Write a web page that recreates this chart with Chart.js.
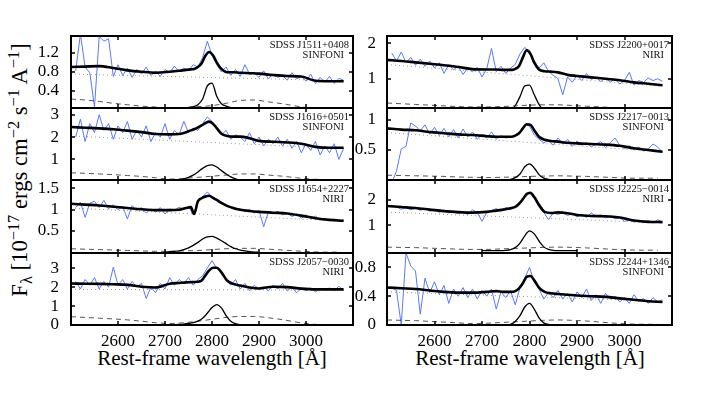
<!DOCTYPE html>
<html>
<head>
<meta charset="utf-8">
<script src="https://cdn.jsdelivr.net/npm/chart.js@4.4.1/dist/chart.umd.min.js"></script>
<style>
  body { margin: 0; background: #fff; width: 707px; height: 394px; overflow: hidden; position: relative; font-family: 'Liberation Serif', 'Times New Roman', serif; }
  canvas { position: absolute; }
  .tag { position: absolute; font-size: 10.5px; line-height: 10px; text-align: right; color: #111; white-space: nowrap; }
  .tag span { display: block; padding-right: 5px; }
  .xt { position: absolute; top: 348px; font-size: 21px; line-height: 21px; white-space: nowrap; transform: translateX(-50%); }
  #ytitle { position: absolute; left: 21px; top: 170px; font-size: 22.7px; line-height: 22px; white-space: nowrap; transform: translate(-50%, -50%) rotate(-90deg); }
  .sp { font-size: 0.72em; position: relative; top: -0.5em; }
  .sb { font-size: 0.72em; position: relative; top: 0.3em; }
</style>
</head>
<body>

<div id="ytitle">F<span class="sb">λ</span> [10<span class="sp">−17</span> ergs cm<span class="sp">−2</span> s<span class="sp">−1</span> A<span class="sp">−1</span>]</div>
<div class="xt" style="left:212px">Rest-frame wavelength [Å]</div>
<div class="xt" style="left:530px">Rest-frame wavelength [Å]</div>

<script>
// wavelength grids (Angstrom)
const wave = [2510,2520,2530,2540,2550,2560,2570,2580,2590,2600,
  2610,2620,2630,2640,2650,2660,2670,2680,2690,2700,
  2710,2720,2730,2740,2750,2760,2770,2780,2790,2800,
  2810,2820,2830,2840,2850,2860,2870,2880,2890,2900,
  2910,2920,2930,2940,2950,2960,2970,2980,2990,3000,
  3010,3020,3030,3040,3050,3060,3070,3080];
const fitWave = [2500,2530,2560,2590,2620,2650,2680,2710,2730,2745,2755,2762,2770,2778,2786,
  2794,2802,2810,2820,2832,2845,2860,2880,2900,2930,2960,2990,3020,3050,3080];
const lineWave = [2700,2710,2720,2730,2740,2750,2760,2770,2780,2790,2800,
  2810,2820,2830,2840,2850,2860,2870,2880,2890,2900];
const feWave = [2500,2530,2560,2590,2620,2650,2680,2710,2740,2770,
  2800,2830,2860,2890,2920,2950,2980,3010,3040,3070];
const contWave = [2500, 3080];
const xTicks = [2600, 2700, 2800, 2900, 3000];

// SDSS J1511+0408 (SINFONI)
const flux1511 = [0.82,1.6,0.9,0.78,0.05,1.55,1.45,1.5,0.7,0.95,
  0.72,0.88,0.68,0.85,0.75,0.9,0.72,0.82,0.7,0.85,
  0.78,0.92,0.8,0.88,0.82,0.95,0.9,1.1,1.45,1.15,
  0.95,0.8,0.9,0.72,0.85,0.7,0.95,0.75,0.78,0.68,
  0.82,0.65,0.75,0.68,0.72,0.62,0.78,0.65,0.7,0.6,
  0.75,0.55,0.68,0.58,0.7,0.55,0.66,0.62];
const fit1511 = [0.9,0.91,0.92,0.88,0.83,0.8,0.78,0.8,0.82,0.84,0.85,0.86,0.9,0.98,1.14,
  1.22,1.15,1.0,0.86,0.79,0.79,0.78,0.77,0.76,0.73,0.71,0.7,0.61,0.6,0.6];
const mg1511 = [0.02,0.02,0.02,0.03,0.03,0.04,0.06,0.1,0.22,0.5,0.56,0.28,0.12,0.07,0.04,0.03,0.02,0.02,0.02,0.02,0.02];
const fe1511 = [0.22,0.2,0.17,0.13,0.1,0.07,0.05,0.03,0.04,0.06,0.08,0.13,0.19,0.2,0.16,0.12,0.07,0.03,0.01,0];
const cont1511 = [0.75, 0.61];
const yTicks1511 = [0.4, 0.8, 1.2];
const yRange1511 = [0.03, 1.56];

// SDSS J1616+0501 (SINFONI)
const flux1616 = [2.0,2.8,1.8,2.6,2.2,3.0,2.3,2.6,1.9,2.5,
  2.2,2.7,1.9,2.3,2.0,2.5,1.8,2.2,2.0,2.6,
  1.9,2.3,2.1,2.7,2.2,2.4,2.3,2.6,2.9,2.7,
  2.4,2.1,2.3,1.9,2.1,2.0,1.8,2.2,1.7,2.0,
  1.6,1.9,1.7,2.0,1.6,1.9,1.5,1.8,1.3,1.7,
  1.4,1.8,1.2,1.6,1.3,1.7,1.0,1.5];
const fit1616 = [2.45,2.42,2.39,2.35,2.29,2.22,2.14,2.12,2.14,2.22,2.3,2.35,2.43,2.52,2.62,
  2.69,2.6,2.4,2.15,2.05,2.02,2.02,1.95,1.83,1.79,1.76,1.7,1.56,1.52,1.52];
const mg1616 = [0.02,0.03,0.05,0.08,0.13,0.2,0.3,0.44,0.6,0.72,0.76,0.66,0.5,0.35,0.22,0.13,0.07,0.04,0.02,0.01,0];
const fe1616 = [0.4,0.38,0.35,0.32,0.28,0.24,0.18,0.12,0.15,0.2,0.25,0.3,0.35,0.35,0.3,0.25,0.18,0.12,0.1,0.08];
const cont1616 = [2.05, 1.48];
const yTicks1616 = [1, 2, 3];
const yRange1616 = [0.08, 3.3];

// SDSS J1654+2227 (NIRI)
const flux1654 = [1.05,1.18,0.82,1.15,1.2,1.05,1.22,1.02,1.12,1.0,
  1.08,0.78,1.1,0.98,1.05,0.92,1.02,0.95,1.05,0.9,
  1.02,0.98,1.06,1.0,1.08,0.88,1.2,1.3,1.42,1.3,
  1.25,1.15,1.12,1.05,1.0,1.02,0.95,1.0,0.92,0.98,
  0.6,0.95,0.9,0.96,0.88,0.92,0.84,0.9,0.8,0.88,
  0.78,0.85,0.76,0.8,0.74,0.78,0.72,0.76];
const fit1654 = [1.14,1.12,1.1,1.07,1.04,1.01,0.99,0.99,1.0,1.04,1.06,0.9,1.2,1.27,1.31,
  1.33,1.28,1.23,1.16,1.09,1.04,1.0,0.97,0.95,0.93,0.91,0.86,0.8,0.76,0.74];
const mg1654 = [0,0.01,0.02,0.03,0.06,0.1,0.16,0.23,0.31,0.36,0.37,0.33,0.27,0.2,0.13,0.08,0.05,0.03,0.01,0,0];
const fe1654 = [0.08,0.07,0.06,0.05,0.04,0.03,0.02,0.02,0.03,0.04,0.06,0.08,0.09,0.09,0.07,0.05,0.03,0.01,0,0];
const cont1654 = [1.04, 0.73];
const yTicks1654 = [0.5, 1, 1.5];
const yRange1654 = [-0.02, 1.7];

// SDSS J2057-0030 (NIRI)
const flux2057 = [2.3,1.9,2.4,2.1,2.5,1.9,2.3,2.0,3.05,2.1,
  2.4,1.9,2.3,2.0,2.2,1.4,2.0,1.7,2.2,1.9,
  2.5,2.1,2.4,2.2,2.5,2.1,2.4,2.6,3.0,3.4,
  3.0,2.8,2.4,2.1,2.4,1.9,2.2,1.8,2.1,1.9,
  2.0,1.8,2.1,1.9,2.2,1.8,2.0,1.7,1.95,1.8,
  1.95,1.75,1.9,1.85,1.95,1.8,2.05,1.8];
const fit2057 = [2.19,2.18,2.17,2.15,2.12,2.02,1.98,2.18,2.22,2.25,2.26,2.27,2.28,2.35,2.62,
  2.88,3.02,3.02,2.78,2.35,2.17,2.08,1.98,1.93,2.02,2.0,1.92,1.88,1.88,1.88];
const mg2057 = [0,0.01,0.02,0.03,0.05,0.08,0.12,0.2,0.35,0.62,0.92,1.08,0.9,0.5,0.2,0.07,0.02,0,0,0,0];
const fe2057 = [0.44,0.4,0.36,0.32,0.27,0.2,0.12,0.08,0.12,0.2,0.3,0.4,0.45,0.45,0.38,0.28,0.15,0.05,0.02,0.02];
const cont2057 = [1.88, 1.84];
const yTicks2057 = [0, 1, 2, 3];
const yRange2057 = [0, 3.8];

// SDSS J2200+0017 (NIRI)
const flux2200 = [1.72,1.5,1.75,1.45,1.6,1.38,1.55,1.35,1.5,1.3,
  1.45,1.15,1.4,1.25,1.35,1.12,1.3,1.2,1.32,1.05,
  1.28,1.85,1.2,1.35,1.15,1.3,1.4,1.7,1.88,1.75,
  1.5,1.3,1.45,1.2,1.1,1.0,0.55,1.05,0.9,1.1,
  0.95,1.15,0.98,1.05,0.92,1.02,0.9,1.0,0.85,0.95,
  1.18,0.82,0.95,0.9,1.02,0.95,1.0,0.93];
const fit2200 = [1.53,1.5,1.46,1.42,1.38,1.33,1.27,1.26,1.26,1.25,1.25,1.25,1.28,1.36,1.6,
  1.8,1.7,1.45,1.26,1.21,1.2,1.18,1.11,1.08,1.04,1.0,0.96,0.9,0.86,0.82];
const mg2200 = [0,0,0,0.01,0.02,0.04,0.1,0.25,0.5,0.8,0.82,0.55,0.28,0.1,0.04,0.02,0.01,0,0,0,0];
const fe2200 = [0.32,0.3,0.28,0.26,0.24,0.22,0.21,0.21,0.22,0.24,0.26,0.27,0.27,0.25,0.23,0.21,0.19,0.18,0.17,0.17];
const cont2200 = [1.4, 0.79];
const yTicks2200 = [1, 2];
const yRange2200 = [0.18, 2.2];

// SDSS J2217-0013 (SINFONI)
const flux2217 = [-0.05,0.15,0.52,0.56,0.95,0.9,0.82,0.92,0.76,0.88,
  0.74,0.86,0.72,0.84,0.7,0.85,0.72,0.8,0.68,0.76,
  0.7,0.8,0.68,0.74,0.7,0.72,0.74,0.8,0.92,0.9,
  0.75,0.68,0.62,0.66,0.58,0.7,0.6,0.68,0.56,0.65,
  0.58,0.62,0.55,0.6,0.64,0.54,0.62,0.7,0.58,0.52,
  0.57,0.5,0.55,0.48,0.52,0.6,0.55,0.46];
const fit2217 = [0.86,0.84,0.83,0.8,0.78,0.76,0.75,0.73,0.72,0.72,0.72,0.72,0.74,0.78,0.86,
  0.93,0.92,0.83,0.72,0.67,0.65,0.64,0.62,0.61,0.6,0.59,0.57,0.53,0.5,0.47];
const mg2217 = [0,0,0,0,0,0,0.01,0.04,0.1,0.22,0.27,0.2,0.09,0.03,0.01,0,0,0,0,0,0];
const fe2217 = [0.08,0.075,0.07,0.065,0.06,0.05,0.045,0.04,0.045,0.05,0.06,0.065,0.07,0.065,0.06,0.05,0.04,0.03,0.03,0.03];
const cont2217 = [0.79, 0.47];
const yTicks2217 = [0.5, 1];
const yRange2217 = [0, 1.2];

// SDSS J2225-0014 (NIRI)
const flux2225 = [1.78,1.72,1.62,1.7,1.6,1.68,1.58,1.65,1.55,1.62,
  1.5,1.58,1.48,1.55,1.45,1.52,1.42,1.6,1.5,1.15,
  1.5,1.58,1.65,1.55,1.7,1.62,1.72,1.85,2.1,2.25,
  2.05,1.7,1.5,1.22,1.48,1.42,1.5,1.38,1.45,1.32,
  1.42,1.3,1.48,1.35,1.4,1.28,1.36,1.25,1.3,1.15,
  1.22,1.12,1.2,1.1,1.18,1.08,1.22,1.12];
const fit2225 = [1.75,1.71,1.67,1.61,1.55,1.51,1.49,1.52,1.57,1.61,1.64,1.67,1.72,1.84,2.02,
  2.22,2.27,2.1,1.8,1.52,1.48,1.5,1.47,1.4,1.36,1.35,1.3,1.18,1.13,1.12];
const mg2225 = [0,0,0,0,0,0.01,0.04,0.12,0.3,0.58,0.78,0.66,0.38,0.15,0.05,0.01,0,0,0,0,0];
const fe2225 = [0.14,0.13,0.12,0.1,0.08,0.06,0.05,0.05,0.07,0.09,0.11,0.13,0.14,0.13,0.11,0.08,0.05,0.03,0.02,0.02];
const cont2225 = [1.51, 1.09];
const yTicks2225 = [1, 2];
const yRange2225 = [-0.09, 2.77];

// SDSS J2244+1346 (SINFONI)
const flux2244 = [0.52,0.48,0.0,1.0,0.82,0.75,0.15,0.65,0.45,0.6,
  0.42,0.55,0.3,0.5,0.4,0.52,0.38,0.5,0.36,0.48,
  0.4,0.5,0.22,0.46,0.38,0.48,0.28,0.52,0.65,0.8,
  0.6,0.5,0.36,0.45,0.38,0.48,0.36,0.44,0.32,0.46,
  0.38,0.5,0.34,0.42,0.3,0.44,0.36,0.4,0.32,0.38,
  0.3,0.42,0.33,0.37,0.3,0.38,0.32,0.35];
const fit2244 = [0.52,0.51,0.5,0.48,0.46,0.45,0.45,0.46,0.47,0.46,0.46,0.46,0.47,0.51,0.58,
  0.67,0.68,0.62,0.52,0.46,0.44,0.43,0.42,0.41,0.4,0.39,0.37,0.35,0.33,0.32];
const mg2244 = [0,0,0,0,0,0,0.01,0.05,0.13,0.25,0.3,0.22,0.1,0.03,0.01,0,0,0,0,0,0];
const fe2244 = [0.07,0.065,0.06,0.05,0.04,0.03,0.02,0.025,0.035,0.045,0.055,0.065,0.07,0.065,0.055,0.04,0.025,0.015,0.01,0.01];
const cont2244 = [0.46, 0.33];
const yTicks2244 = [0, 0.4, 0.8];
const yRange2244 = [0, 1.0];

const panels = [
  { name: 'SDSS J1511+0408', inst: 'SINFONI', col: 0, row: 0, flux: flux1511, fit: fit1511, mg: mg1511, fe: fe1511, cont: cont1511, ticks: yTicks1511, range: yRange1511 },
  { name: 'SDSS J1616+0501', inst: 'SINFONI', col: 0, row: 1, flux: flux1616, fit: fit1616, mg: mg1616, fe: fe1616, cont: cont1616, ticks: yTicks1616, range: yRange1616 },
  { name: 'SDSS J1654+2227', inst: 'NIRI', col: 0, row: 2, flux: flux1654, fit: fit1654, mg: mg1654, fe: fe1654, cont: cont1654, ticks: yTicks1654, range: yRange1654 },
  { name: 'SDSS J2057−0030', inst: 'NIRI', col: 0, row: 3, flux: flux2057, fit: fit2057, mg: mg2057, fe: fe2057, cont: cont2057, ticks: yTicks2057, range: yRange2057 },
  { name: 'SDSS J2200+0017', inst: 'NIRI', col: 1, row: 0, flux: flux2200, fit: fit2200, mg: mg2200, fe: fe2200, cont: cont2200, ticks: yTicks2200, range: yRange2200 },
  { name: 'SDSS J2217−0013', inst: 'SINFONI', col: 1, row: 1, flux: flux2217, fit: fit2217, mg: mg2217, fe: fe2217, cont: cont2217, ticks: yTicks2217, range: yRange2217 },
  { name: 'SDSS J2225−0014', inst: 'NIRI', col: 1, row: 2, flux: flux2225, fit: fit2225, mg: mg2225, fe: fe2225, cont: cont2225, ticks: yTicks2225, range: yRange2225 },
  { name: 'SDSS J2244+1346', inst: 'SINFONI', col: 1, row: 3, flux: flux2244, fit: fit2244, mg: mg2244, fe: fe2244, cont: cont2244, ticks: yTicks2244, range: yRange2244 },
];

// page layout
const rowTop = [36, 108, 180, 253];
const rowBottom = [108, 180, 253, 325];
const colLeft = [0, 355], colWidth = [360, 352], yAxisW = [71, 32], padRight = [7, 35];
const tagRight = [358, 38];
const PAD = 12, XAXIS_H = 34;
const FONT = 'Liberation Serif';

const pts = (xs, ys) => xs.map((x, i) => ({ x: x, y: ys[i] }));

// box + inward ticks, matlab style
const framePlugin = {
  id: 'frame',
  afterDatasetsDraw(chart) {
    const { ctx, chartArea: a, scales } = chart;
    ctx.save();
    ctx.strokeStyle = '#000';
    ctx.lineWidth = 1.5;
    ctx.beginPath();
    xTicks.forEach(v => {
      const x = Math.round(scales.x.getPixelForValue(v));
      ctx.moveTo(x, a.top); ctx.lineTo(x, a.top + 4);
      ctx.moveTo(x, a.bottom); ctx.lineTo(x, a.bottom - 4);
    });
    scales.y.ticks.forEach(t => {
      const y = Math.round(scales.y.getPixelForValue(t.value));
      ctx.moveTo(a.left, y); ctx.lineTo(a.left + 4, y);
      ctx.moveTo(a.right, y); ctx.lineTo(a.right - 4, y);
    });
    ctx.stroke();
    ctx.lineWidth = 2;
    ctx.strokeRect(a.left, a.top, a.right - a.left, a.bottom - a.top);
    ctx.restore();
  }
};

panels.forEach(p => {
  const last = p.row === 3;
  const h = rowBottom[p.row] - rowTop[p.row];
  const cv = document.createElement('canvas');
  const cw = colWidth[p.col];
  const ch = h + PAD + (last ? XAXIS_H : PAD);
  cv.width = cw; cv.height = ch;
  cv.style.left = colLeft[p.col] + 'px';
  cv.style.top = (rowTop[p.row] - PAD) + 'px';
  cv.style.width = cw + 'px'; cv.style.height = ch + 'px';
  document.body.appendChild(cv);

  const tag = document.createElement('div');
  tag.className = 'tag';
  tag.style.right = tagRight[p.col] + 'px';
  tag.style.top = (rowTop[p.row] + 4) + 'px';
  tag.innerHTML = p.name + '<span>' + p.inst + '</span>';
  document.body.appendChild(tag);

  new Chart(cv.getContext('2d'), {
    type: 'line',
    data: {
      datasets: [
        { data: pts(fitWave, p.fit), borderColor: '#000', borderWidth: 2.6, cubicInterpolationMode: 'monotone' },
        { data: pts(lineWave, p.mg), borderColor: '#000', borderWidth: 1.3, cubicInterpolationMode: 'monotone' },
        { data: pts(feWave, p.fe), borderColor: '#555', borderWidth: 1, borderDash: [5, 4], cubicInterpolationMode: 'monotone' },
        { data: pts(contWave, p.cont), borderColor: '#999', borderWidth: 1, borderDash: [1, 3] },
        { data: pts(wave, p.flux), borderColor: 'rgb(90,120,255)', borderWidth: 1, tension: 0 },
      ]
    },
    options: {
      responsive: false,
      animation: false,
      events: [],
      elements: { point: { radius: 0 } },
      layout: { padding: { top: PAD, bottom: last ? 0 : PAD, left: 0, right: padRight[p.col] } },
      plugins: { legend: { display: false }, tooltip: { enabled: false } },
      scales: {
        x: {
          type: 'linear', min: 2500, max: 3100, display: last,
          grid: { display: false }, border: { display: false },
          ticks: { color: '#000', font: { family: FONT, size: 17 }, padding: -2, maxRotation: 0, callback: v => String(v) },
          afterBuildTicks: s => { s.ticks = xTicks.map(v => ({ value: v })); },
          afterFit: s => { s.height = last ? XAXIS_H : 0; s.paddingLeft = 0; s.paddingRight = 0; }
        },
        y: {
          min: p.range[0], max: p.range[1],
          grid: { display: false }, border: { display: false },
          ticks: { color: '#000', font: { family: FONT, size: 17 }, padding: p.col === 0 ? 4 : 3, callback: v => String(v) },
          afterBuildTicks: s => { s.ticks = p.ticks.map(v => ({ value: v })); },
          afterFit: s => { s.width = yAxisW[p.col]; s.paddingTop = 0; s.paddingBottom = 0; }
        }
      }
    },
    plugins: [framePlugin]
  });
});
</script>
</body>
</html>
